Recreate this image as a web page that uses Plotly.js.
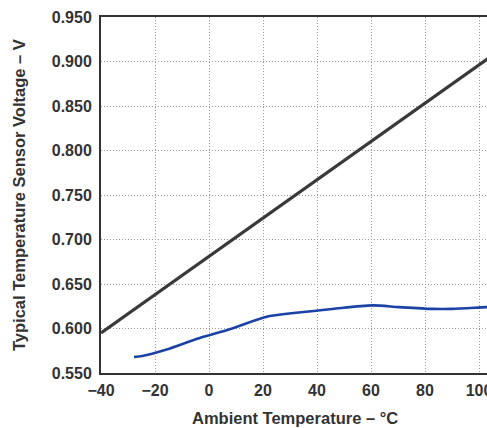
<!DOCTYPE html>
<html><head><meta charset="utf-8">
<script src="https://cdn.plot.ly/plotly-3.0.1.min.js"></script>
<style>html,body{margin:0;padding:0;background:#fff;overflow:hidden;}#wrap{width:487px;height:428px;overflow:hidden;}#chart{width:530px;height:428px;}</style>
</head><body><div id="wrap"><div id="chart"></div></div>
<script>
var idealTemp = [-40, 115];
var idealVolt = [0.595, 0.9285];
var measTemp = [-27.8, -24.7, -16, -3.7, 8.6, 21, 33.3, 45.7, 60.5, 70.4, 82.7, 90, 102.6, 110];
var measVolt = [0.568, 0.569, 0.576, 0.589, 0.600, 0.613, 0.618, 0.622, 0.626, 0.624, 0.622, 0.622, 0.624, 0.625];
var xTicks = [-40, -20, 0, 20, 40, 60, 80, 100];
var yTicks = [0.55, 0.60, 0.65, 0.70, 0.75, 0.80, 0.85, 0.90, 0.95];
var yTickText = ['0.550','0.600','0.650','0.700','0.750','0.800','0.850','0.900','0.950'];
var xTitle = 'Ambient Temperature \u2013 \u00B0C';
var yTitle = 'Typical Temperature Sensor Voltage \u2013 V';

var FW = 530, FH = 428, ML = 101, MT = 17, MB = 55;
var plotW = FW - ML, plotH = FH - MT - MB;
var xMax = -40 + plotW / 2.7;
function px2x(p){ return (p - ML) / plotW; }
function px2y(p){ return (FH - MB - p) / plotH; }

var tickFont = {family: 'Liberation Sans, Arial, sans-serif', size: 16, color: '#333'};
var titleFont = {family: 'Liberation Sans, Arial, sans-serif', size: 16.5, color: '#333'};

var data = [
  {x: idealTemp, y: idealVolt, mode: 'lines', line: {color: '#3a3a3a', width: 3.2}, hoverinfo: 'skip'},
  {x: measTemp, y: measVolt, mode: 'lines', line: {color: '#1c42a6', width: 2.6, shape: 'spline', smoothing: 0.8}, hoverinfo: 'skip'}
];
var layout = {
  width: FW, height: FH,
  margin: {l: ML, r: 0, t: MT, b: MB},
  paper_bgcolor: '#fff', plot_bgcolor: '#fff',
  showlegend: false,
  xaxis: {
    range: [-40, xMax], tickvals: xTicks, ticktext: xTicks.map(function(v){return v<0?'<b>\u2212'+(-v)+'</b>':'<b>'+v+'</b>';}),
    showgrid: true, gridcolor: '#999', griddash: '1px,2px', gridwidth: 1,
    showline: true, linecolor: '#333', linewidth: 2, mirror: true,
    ticks: 'outside', ticklen: 2, tickcolor: 'rgba(0,0,0,0)', tickfont: tickFont, zeroline: false
  },
  yaxis: {
    range: [0.55, 0.95], tickvals: yTicks, ticktext: yTickText.map(function(t){return '<b>'+t+'</b>';}),
    showgrid: true, gridcolor: '#999', griddash: '1px,2px', gridwidth: 1,
    showline: true, linecolor: '#333', linewidth: 2, mirror: false,
    ticks: 'outside', ticklen: 4, tickcolor: 'rgba(0,0,0,0)', tickfont: tickFont, zeroline: false
  },
  annotations: [
    {text: '<b>' + xTitle + '</b>', xref: 'paper', yref: 'paper', x: px2x(295), y: px2y(418),
     xanchor: 'center', yanchor: 'middle', showarrow: false, font: titleFont},
    {text: '<b>' + yTitle + '</b>', xref: 'paper', yref: 'paper', x: px2x(19), y: px2y(195),
     xanchor: 'center', yanchor: 'middle', textangle: -90, showarrow: false, font: titleFont}
  ]
};
Plotly.newPlot('chart', data, layout, {staticPlot: true, displayModeBar: false});
</script></body></html>
